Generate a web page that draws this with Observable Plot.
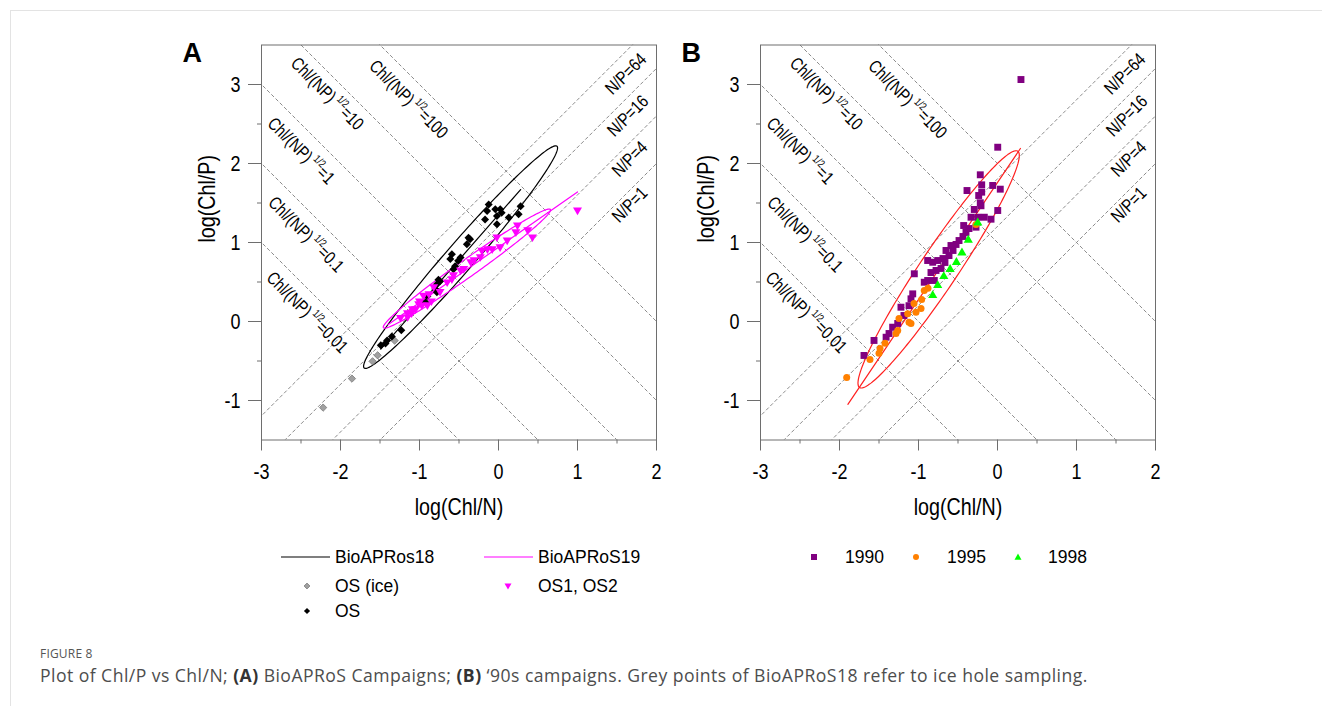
<!DOCTYPE html>
<html><head><meta charset="utf-8">
<script src="https://cdn.jsdelivr.net/npm/d3@7"></script>
<script src="https://cdn.jsdelivr.net/npm/@observablehq/plot@0.6"></script>
<style>
html,body{margin:0;padding:0;background:#fff;}
body{width:1322px;height:706px;overflow:hidden;position:relative;font-family:"Liberation Sans",Arial,sans-serif;}
#bt{position:absolute;left:10px;top:10px;width:1312px;height:0;border-top:1px solid #e3e3e3;}
#bl{position:absolute;left:10px;top:10px;width:0;height:700px;border-left:1px solid #e3e3e3;}
.panel{position:absolute;top:0;}
.legend{position:absolute;top:0;left:0;}
#fig{position:absolute;left:40px;top:647px;font-family:"Open Sans",sans-serif;font-size:12px;line-height:13px;color:#555;letter-spacing:0.2px;}
#cap{position:absolute;left:40px;top:665px;font-family:"Open Sans",sans-serif;font-size:17.6px;line-height:20px;letter-spacing:0.45px;color:#4d4d4d;white-space:nowrap;}
#cap b{font-weight:700;color:#333;}
</style>
</head><body>
<div id="bt"></div><div id="bl"></div>
<div id="pa" class="panel" style="left:150px"></div>
<div id="pb" class="panel" style="left:649px"></div>
<svg id="leg" class="legend" width="1322" height="640"></svg>
<div id="fig">FIGURE 8</div>
<div id="cap">Plot of Chl/P vs Chl/N; <b>(A)</b> BioAPRoS Campaigns; <b>(B)</b> ‘90s campaigns. Grey points of BioAPRoS18 refer to ice hole sampling.</div>
<script>
// ---------- axes ----------
const xTicks = [-3, -2, -1, 0, 1, 2];
const xMinor = [-2.5, -1.5, -0.5, 0.5, 1.5];
const yTicks = [-1, 0, 1, 2, 3];
const yMinor = [-0.5, 0.5, 1.5, 2.5];

// ---------- reference lines ----------
const npRatios = [1, 4, 16, 64];
const npLabelX = [1.53, 1.53, 1.468, 1.443];
const npLabelY = [1.24, 1.82, 2.33, 2.86];
const chlRatios = ["0.01", "0.1", "1", "10", "100"];
const chlLabelX = [-2.95, -2.928, -2.937, -2.642, -1.65];
const chlLabelY = [0.539, 1.489, 2.492, 3.252, 3.218];

// ---------- panel A data ----------
const osIceX = [-2.22, -1.855, -1.594, -1.53, -1.315];
const osIceY = [-1.09, -0.723, -0.504, -0.428, -0.242];
const osX = [-1.49, -1.43, -1.41, -1.35, -1.23, -0.92, -0.90, -0.80, -0.78, -0.76, -0.74, -0.78,
  -0.57, -0.55, -0.51, -0.48, -0.61, -0.59, -0.40, -0.36, -0.38,
  -0.17, -0.144, -0.124, -0.04, 0.022, 0.04, -0.02, 0.13, 0.28, 0.255, -0.02];
const osY = [-0.30, -0.28, -0.24, -0.19, -0.11, 0.24, 0.32, 0.41, 0.47, 0.53, 0.51, 0.37,
  0.66, 0.70, 0.77, 0.81, 0.79, 0.85, 0.977, 1.04, 1.06,
  1.29, 1.40, 1.48, 1.42, 1.42, 1.378, 1.335, 1.315, 1.46, 1.357, 1.23];
const os12X = [1.0, 0.24, 0.37, 0.43, 0.22, 0.11, 0.02, -0.02, -0.08, -0.14, -0.21, -0.23, -0.31, -0.35,
  -0.44, -0.48, -0.57, -0.59, -0.65, -0.82, -0.88, -0.74, -0.95, -0.97, -1.0, -1.05, -1.1, -1.15, -0.9, -0.85,
  -1.24, -1.152, -1.09, -1.01];
const os12Y = [1.40, 1.21, 1.15, 1.06, 1.125, 1.02, 0.935, 1.06, 0.91, 0.91, 0.89, 0.81, 0.77, 0.745,
  0.66, 0.64, 0.58, 0.53, 0.49, 0.43, 0.34, 0.37, 0.32, 0.196, 0.25, 0.15, 0.10, 0.05, 0.20, 0.25,
  0.04, 0.10, 0.15, 0.215];
const ell18 = {cx: -0.48, cy: 0.815, a: 1.86, b: 0.18, angle: 49};
const ell19 = {cx: -0.40, cy: 0.67, a: 1.295, b: 0.11, angle: 35.3};
const reg18X = [-1.49, 0.28], reg18Y = [-0.35, 1.67];
const reg19X = [-1.40, 1.0], reg19Y = [-0.04, 1.64];

// ---------- panel B data ----------
const y1990X = [0.297, 0.003, -0.218, -0.2, -0.061, 0.035, -0.386, -0.2, -0.238, -0.218, -0.209, -0.294, 0.003, -0.335,
  -0.25, -0.167, -0.082, -0.428, -0.272,
  -0.884, -0.82, -0.757, -1.053, -0.927, -0.884, -0.80, -1.073, -1.095,
  -1.222, -1.12, -1.184, -1.263, -1.327, -1.373, -1.41, -1.563, -1.69,
  -0.715, -0.665, -0.614, -0.563, -0.525, -0.487, -0.437, -0.399, -0.361, -0.652, -0.589, -0.69, -0.778, -0.842];
const y1990Y = [3.063, 2.206, 1.857, 1.73, 1.722, 1.675, 1.658, 1.637, 1.595, 1.503, 1.465, 1.418, 1.405, 1.32,
  1.32, 1.32, 1.295, 1.215, 1.194,
  0.772, 0.75, 0.772, 0.604, 0.497, 0.519, 0.519, 0.35, 0.287,
  0.181, 0.20, 0.076, -0.025, -0.072, -0.152, -0.199, -0.24, -0.43,
  0.671, 0.747, 0.835, 0.899, 0.975, 1.025, 1.076, 1.127, 1.177, 0.899, 0.962, 0.797, 0.646, 0.62];
const y1995X = [-1.057, -0.968, -1.032, -1.137, -1.12, -1.095, -1.247, -1.263, -1.285, -1.424, -1.487, -1.5, -1.614, -1.909,
  -0.927, -0.88, -0.96, -0.272];
const y1995Y = [0.228, 0.165, 0.118, 0.097, -0.009, -0.025, 0.038, -0.114, -0.152, -0.275, -0.342, -0.401, -0.481, -0.709,
  0.392, 0.42, 0.28, 1.228];
const y1998X = [-0.25, -0.37, -0.45, -0.52, -0.6, -0.68, -0.757, -0.82];
const y1998Y = [1.25, 1.03, 0.87, 0.75, 0.66, 0.57, 0.456, 0.33];
const ell90 = {cx: -0.745, cy: 0.66, a: 1.80, b: 0.24, angle: 56.2};
const reg90X = [-1.894, 0.29], reg90Y = [-1.048, 2.19];

// ---------- helpers ----------
const sansFont = "'Liberation Sans',Arial,sans-serif";
const fmt = d => String(d);
const zip = (X, Y) => X.map((x, i) => ({x, y: Y[i]}));
function ellipsePts(e) {
  const t = e.angle * Math.PI / 180;
  return d3.range(200).map(i => {
    const a = 2 * Math.PI * i / 200, u = e.a * Math.cos(a), v = e.b * Math.sin(a);
    return {x: e.cx + u * Math.cos(t) - v * Math.sin(t), y: e.cy + u * Math.sin(t) + v * Math.cos(t)};
  });
}
const triDown = {draw(ctx, size) {
  const h = Math.sqrt(size / Math.PI) * 1.25;
  ctx.moveTo(-h, -h * 0.75); ctx.lineTo(h, -h * 0.75); ctx.lineTo(0, h * 0.95); ctx.closePath();
}};
const refLines = [];
npRatios.forEach(r => { const c = Math.log10(r); [-4, 3].forEach(x => refLines.push({id: "np" + r, x, y: x + c})); });
chlRatios.forEach(k => { const c = Math.log10(+k); [-4, 5].forEach(x => refLines.push({id: "chl" + k, x, y: c - x})); });
const npLab = npRatios.map((r, i) => ({t: "N/P=" + r, x: npLabelX[i], y: npLabelY[i]}));
const chlLab = chlRatios.map((k, i) => ({t: "Chl/(NP)^1/2^=" + k, x: chlLabelX[i], y: chlLabelY[i]}));

function panel(letter, dataMarks) {
  const svg = Plot.plot({
    width: 526, height: 529,
    marginLeft: 111, marginRight: 20, marginTop: 44.5, marginBottom: 89.5,
    x: {domain: [-3, 2]}, y: {domain: [-1.5, 3.5]},
    style: {fontFamily: sansFont, background: "transparent", overflow: "visible", color: "#000"},
    marks: [
      Plot.line(refLines, {x: "x", y: "y", z: "id", stroke: "#8c8c8c", strokeWidth: 1, strokeDasharray: "3,3", clip: true}),
      Plot.text(npLab, {x: "x", y: "y", text: "t", rotate: -45, textAnchor: "start", lineAnchor: "bottom", fontSize: 18, fill: "#000"}),
      Plot.text(chlLab, {x: "x", y: "y", text: "t", rotate: 45, textAnchor: "start", lineAnchor: "bottom", fontSize: 18, fill: "#000"}),
      ...dataMarks,
      Plot.frame({stroke: "#6e6e6e"}),
      Plot.axisX(xTicks, {tickSize: 11, tickPadding: 12, stroke: "#6e6e6e", fill: "#000", fontSize: 22, tickFormat: fmt, label: null}),
      Plot.axisX(xMinor, {tickSize: 4, stroke: "#6e6e6e", tickFormat: () => "", label: null}),
      Plot.axisY(yTicks, {tickSize: 13, tickPadding: 8, stroke: "#6e6e6e", fill: "#000", fontSize: 22, tickFormat: fmt, label: null}),
      Plot.axisY(yMinor, {tickSize: 4, stroke: "#6e6e6e", tickFormat: () => "", label: null}),
      Plot.text(["log(Chl/N)"], {frameAnchor: "bottom", dy: 75, fontSize: 24, fill: "#000"}),
      Plot.text(["log(Chl/P)"], {frameAnchor: "left", dx: -54, rotate: -90, fontSize: 24, fill: "#000"}),
      Plot.text([letter], {frameAnchor: "top-left", dx: -79, dy: -2, textAnchor: "start", lineAnchor: "top", fontSize: 27, fontWeight: "bold", fill: "#000"})
    ]
  });
  // superscript 1/2 in Chl/(NP) labels
  d3.select(svg).selectAll("text").each(function() {
    const s = this.textContent;
    if (this.childElementCount === 0 && s.indexOf("^") >= 0) {
      const [a, b, c] = s.split("^");
      this.textContent = "";
      const sel = d3.select(this);
      sel.append("tspan").text(a);
      sel.append("tspan").attr("dx", 3).attr("dy", -8).attr("font-size", 11).text(b);
      sel.append("tspan").attr("dy", 8).text(c);
    }
  });
  return svg;
}
// narrow (condensed) look of the original's axis typeface
function condense(svg, f) {
  d3.select(svg).selectAll("text").each(function() {
    if (this.textContent === "A" || this.textContent === "B") return;
    const L = this.getComputedTextLength();
    if (L > 0) { this.setAttribute("textLength", (L * f).toFixed(1)); this.setAttribute("lengthAdjust", "spacingAndGlyphs"); }
  });
}

const marksA = [
  Plot.line(ellipsePts(ell18), {x: "x", y: "y", curve: "linear-closed", stroke: "#000", strokeWidth: 1.2}),
  Plot.line(zip(reg18X, reg18Y), {x: "x", y: "y", stroke: "#000", strokeWidth: 1.2}),
  Plot.line(ellipsePts(ell19), {x: "x", y: "y", curve: "linear-closed", stroke: "#ff00ff", strokeWidth: 1.2}),
  Plot.line(zip(reg19X, reg19Y), {x: "x", y: "y", stroke: "#ff00ff", strokeWidth: 1.2}),
  Plot.dot(zip(osIceX, osIceY), {x: "x", y: "y", symbol: "diamond2", r: 3.3, fill: "#a0a0a0", stroke: "#7a7a7a", strokeWidth: 0.8}),
  Plot.dot(zip(osX, osY), {x: "x", y: "y", symbol: "diamond2", r: 3.6, fill: "#000", stroke: "none"}),
  Plot.dot(zip(os12X, os12Y), {x: "x", y: "y", symbol: triDown, r: 3.6, fill: "#ff00ff", stroke: "none"})
];
const marksB = [
  Plot.line(ellipsePts(ell90), {x: "x", y: "y", curve: "linear-closed", stroke: "#ff2020", strokeWidth: 1.2}),
  Plot.line(zip(reg90X, reg90Y), {x: "x", y: "y", stroke: "#ff2020", strokeWidth: 1.2}),
  Plot.dot(zip(y1990X, y1990Y), {x: "x", y: "y", symbol: "square", r: 3.9, fill: "#800080", stroke: "none"}),
  Plot.dot(zip(y1995X, y1995Y), {x: "x", y: "y", symbol: "circle", r: 3.5, fill: "#ff8000", stroke: "none"}),
  Plot.dot(zip(y1998X, y1998Y), {x: "x", y: "y", symbol: "triangle", r: 3.4, fill: "#00ff00", stroke: "none"})
];
const svgA = panel("A", marksA), svgB = panel("B", marksB);
document.getElementById("pa").append(svgA);
document.getElementById("pb").append(svgB);
condense(svgA, 0.82); condense(svgB, 0.82);

// ---------- legends ----------
const leg = d3.select("#leg");
function ltext(x, y, t) {
  leg.append("text").attr("x", x).attr("y", y).attr("dy", "0.35em").attr("font-family", sansFont).attr("font-size", 17.5).attr("fill", "#000").text(t);
}
leg.append("line").attr("x1", 281).attr("x2", 330).attr("y1", 557).attr("y2", 557).attr("stroke", "#000").attr("stroke-width", 1.2);
ltext(335, 557, "BioAPRos18");
leg.append("line").attr("x1", 484).attr("x2", 533).attr("y1", 557).attr("y2", 557).attr("stroke", "#ff00ff").attr("stroke-width", 1.2);
ltext(538, 557, "BioAPRoS19");
leg.append("path").attr("d", d3.symbol(d3.symbolDiamond2, 22)()).attr("transform", "translate(307,586)").attr("fill", "#a0a0a0").attr("stroke", "#7a7a7a").attr("stroke-width", 0.8);
ltext(335, 586, "OS (ice)");
leg.append("path").attr("d", "M-3.5,-2.6L3.5,-2.6L0,3.4Z").attr("transform", "translate(508,586)").attr("fill", "#ff00ff");
ltext(538, 586, "OS1, OS2");
leg.append("path").attr("d", d3.symbol(d3.symbolDiamond2, 24)()).attr("transform", "translate(307,611)").attr("fill", "#000");
ltext(335, 611, "OS");
leg.append("rect").attr("x", 811).attr("y", 554).attr("width", 6).attr("height", 6).attr("fill", "#800080");
ltext(845, 557, "1990");
leg.append("circle").attr("cx", 916).attr("cy", 557).attr("r", 3).attr("fill", "#ff8000");
ltext(947, 557, "1995");
leg.append("path").attr("d", "M-3.5,2.8L3.5,2.8L0,-3.4Z").attr("transform", "translate(1018,557)").attr("fill", "#00ff00");
ltext(1048, 557, "1998");
</script>
</body></html>
